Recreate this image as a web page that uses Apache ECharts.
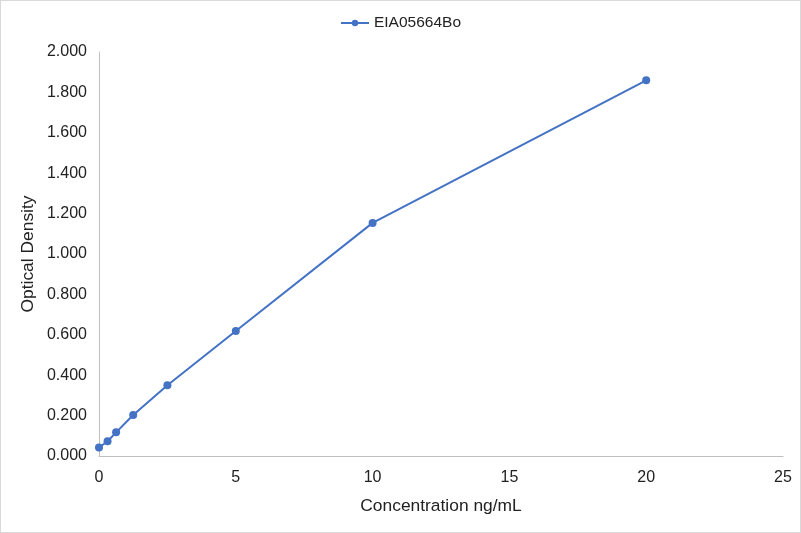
<!DOCTYPE html>
<html>
<head>
<meta charset="utf-8">
<script src="https://cdn.jsdelivr.net/npm/echarts@6/dist/echarts.min.js"></script>
<style>
html,body{margin:0;padding:0;background:#fff;}
#c{width:799px;height:531px;border:1px solid #d9d9d9;}
</style>
</head>
<body>
<div id="c"></div>
<script>
var seriesName = 'EIA05664Bo';
var concentrations = [0, 0.3125, 0.625, 1.25, 2.5, 5, 10, 20];
var densities = [0.042, 0.073, 0.117, 0.203, 0.350, 0.619, 1.154, 1.860];
var xTitle = 'Concentration ng/mL';
var yTitle = 'Optical Density';

var chart = echarts.init(document.getElementById('c'));
var font = 'Liberation Sans, Arial, sans-serif';
chart.setOption({
  animation: false,
  textStyle: {fontFamily: font},
  legend: {
    top: 9, left: 'center',
    itemWidth: 28, itemHeight: 8, itemGap: 10,
    textStyle: {fontSize: 15.5, color: '#222', fontFamily: font},
    data: [seriesName]
  },
  grid: {left: 98, right: 17, top: 51, bottom: 76},
  xAxis: {
    type: 'value', min: 0, max: 25, interval: 5,
    name: xTitle, nameLocation: 'middle', nameGap: 42,
    nameMoveOverlap: false,
    nameTextStyle: {fontSize: 17.4, color: '#222', fontFamily: font},
    axisLine: {show: true, lineStyle: {color: '#bfbfbf', width: 1}},
    axisTick: {show: false},
    splitLine: {show: false},
    axisLabel: {fontSize: 16, color: '#222', margin: 14, fontFamily: font}
  },
  yAxis: {
    type: 'value', min: 0, max: 2, interval: 0.2,
    name: yTitle, nameLocation: 'middle', nameGap: 62,
    nameMoveOverlap: false,
    nameTextStyle: {fontSize: 17.4, color: '#222', fontFamily: font},
    axisLine: {show: true, lineStyle: {color: '#bfbfbf', width: 1}},
    axisTick: {show: false},
    splitLine: {show: false},
    axisLabel: {fontSize: 16, color: '#222', margin: 12, fontFamily: font,
      formatter: function (v) { return v.toFixed(3); }}
  },
  series: [{
    name: seriesName,
    type: 'line',
    data: concentrations.map(function (c, i) { return [c, densities[i]]; }),
    symbol: 'circle', symbolSize: 8,
    lineStyle: {color: '#4472C4', width: 2},
    itemStyle: {color: '#4472C4'}
  }]
});
</script>
</body>
</html>
